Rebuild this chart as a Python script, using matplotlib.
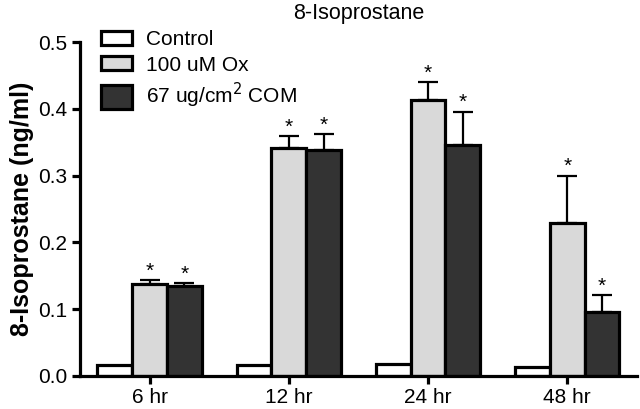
import numpy as np
import matplotlib
matplotlib.use('Agg')
import matplotlib.pyplot as plt
from matplotlib.patches import Rectangle
from matplotlib.legend_handler import HandlerPatch

plt.rcParams['font.family'] = ['Liberation Sans', 'DejaVu Sans']

groups = ['6 hr', '12 hr', '24 hr', '48 hr']
labels = ['Control', '100 uM Ox', '67 ug/cm$^2$ COM']
control = [0.016, 0.017, 0.018, 0.013]
ox = [0.138, 0.342, 0.414, 0.229]
ox_err = [0.005, 0.017, 0.026, 0.071]
com = [0.134, 0.338, 0.346, 0.095]
com_err = [0.005, 0.024, 0.050, 0.026]

fig = plt.figure(figsize=(6.4, 4.09), dpi=100)
ax = fig.add_axes([0.125, 0.081, 0.87, 0.816])

x = np.arange(len(groups))
w = 0.25
ekw = dict(elinewidth=1.6, capsize=7, capthick=1.6, ecolor='black')
b1 = ax.bar(x - w, control, w, color='white', edgecolor='black', linewidth=2.3)
b2 = ax.bar(x, ox, w, color='#d9d9d9', edgecolor='black', linewidth=2.3,
            yerr=[np.zeros(4), ox_err], error_kw=ekw)
b3 = ax.bar(x + w, com, w, color='#333333', edgecolor='black', linewidth=2.3,
            yerr=[np.zeros(4), com_err], error_kw=ekw)

for i in range(len(groups)):
    ax.text(x[i], ox[i] + ox_err[i] - 0.001, '*', ha='center', va='bottom', fontsize=15)
    ax.text(x[i] + w, com[i] + com_err[i] - 0.001, '*', ha='center', va='bottom', fontsize=15)

ax.set_xlim(-0.5, 3.5)
ax.set_ylim(0, 0.5)
ax.set_yticks([0, 0.1, 0.2, 0.3, 0.4, 0.5])
ax.set_yticklabels(['0.0', '0.1', '0.2', '0.3', '0.4', '0.5'])
ax.set_xticks(x)
ax.set_xticklabels(groups)
for s in ['top', 'right']:
    ax.spines[s].set_visible(False)
for s in ['left', 'bottom']:
    ax.spines[s].set_linewidth(2.3)
ax.tick_params(width=2.3, length=6, labelsize=15, pad=3)
ax.set_ylabel('8-Isoprostane (ng/ml)', fontsize=18, fontweight='bold', labelpad=3)
ax.set_title('8-Isoprostane', fontsize=15.5, pad=17)


# taller box for the last legend entry, like the original
def tall_box(legend, orig_handle, xdescent, ydescent, width, height, fontsize):
    return Rectangle((-xdescent, -ydescent - 4), width, height + 7)


h3 = b3.patches[0]
ax.legend([b1.patches[0], b2.patches[0], h3], labels,
          handler_map={h3: HandlerPatch(patch_func=tall_box)},
          loc='upper left', bbox_to_anchor=(0.023, 1.06), frameon=False, fontsize=15,
          handlelength=1.5, handleheight=0.65, labelspacing=0.3, handletextpad=0.67,
          borderpad=0.4, borderaxespad=0)

fig.savefig('out.png', dpi=100)
